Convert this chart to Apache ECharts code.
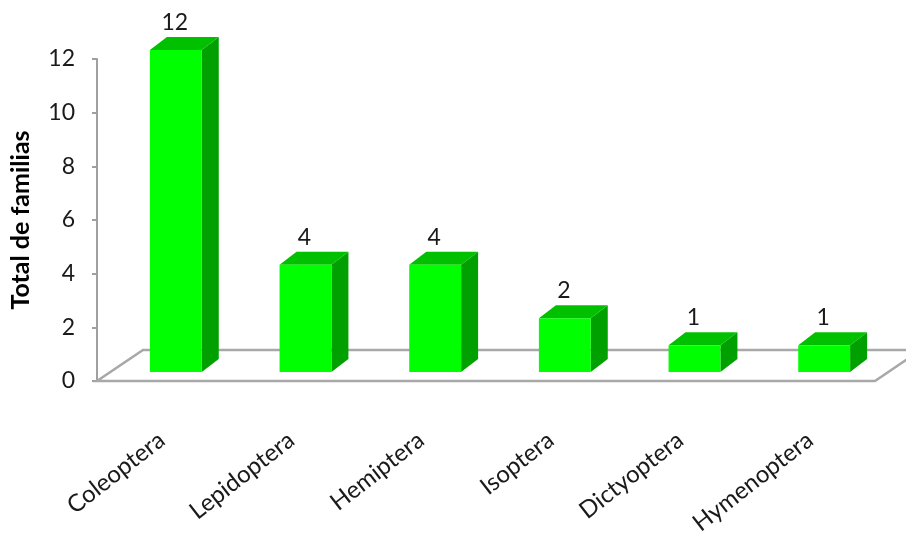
<!DOCTYPE html>
<html>
<head>
<meta charset="utf-8">
<script src="https://cdn.jsdelivr.net/npm/echarts@6/dist/echarts.min.js"></script>
<style>
  html, body { margin: 0; padding: 0; background: #fff; }
  #chart { width: 906px; height: 541px; }
</style>
</head>
<body>
<div id="chart"></div>
<script>
var categories = ["Coleoptera", "Lepidoptera", "Hemiptera", "Isoptera", "Dictyoptera", "Hymenoptera"];
var familias = [12, 4, 4, 2, 1, 1];
var yTicks = { min: 0, max: 12, interval: 2 };

var myChart = echarts.init(document.getElementById("chart"));

// 3d offsets (px)
var floorDx = 46, floorDy = -31;
var barOx = 14, barOy = -9;
var depthDx = 17, depthDy = -13;
var fontName = "Lato";

function renderFloor(params, api) {
  var band = api.size([1, 0])[0];
  var a = api.coord([0, 0]);
  var b = api.coord([categories.length - 1, 0]);
  var xl = a[0] - band / 2, xr = b[0] + band / 2, y = a[1];
  return {
    type: "polygon",
    shape: {
      points: [[xl, y], [xr, y], [xr + floorDx, y + floorDy], [xl + floorDx, y + floorDy]]
    },
    style: { fill: null, stroke: "#a8a8a8", lineWidth: 2.5 }
  };
}

function renderBar(params, api) {
  var idx = api.value(0);
  var val = api.value(1);
  var c0 = api.coord([idx, 0]);
  var c1 = api.coord([idx, val]);
  var bw = api.size([1, 0])[0] * 0.4;
  var x0 = c0[0] + barOx - bw / 2;
  var x1 = x0 + bw;
  var yb = c0[1] + barOy;
  var yt = c1[1] + barOy;
  return {
    type: "group",
    children: [
      {
        type: "polygon",
        shape: { points: [[x1, yb], [x1 + depthDx, yb + depthDy], [x1 + depthDx, yt + depthDy], [x1, yt]] },
        style: { fill: "#00a000" }
      },
      {
        type: "polygon",
        shape: { points: [[x0, yt], [x0 + depthDx, yt + depthDy], [x1 + depthDx, yt + depthDy], [x1, yt]] },
        style: { fill: "#00c000" }
      },
      {
        type: "rect",
        shape: { x: x0, y: yt, width: bw, height: yb - yt },
        style: { fill: "#00ff00" }
      },
      {
        type: "text",
        style: {
          x: x0 + bw / 2 - 1,
          y: yt + depthDy - 3,
          text: String(val),
          fill: "#1a1a1a",
          font: "23px " + fontName,
          align: "center",
          verticalAlign: "bottom"
        }
      }
    ]
  };
}

myChart.setOption({
  backgroundColor: "#fff",
  animation: false,
  grid: { left: 97, right: 31, top: 59, bottom: 160 },
  xAxis: {
    type: "category",
    data: categories,
    axisLine: { show: false },
    axisTick: { show: false },
    axisLabel: {
      rotate: 38,
      margin: 56,
      interval: 0,
      color: "#1a1a1a",
      fontSize: 24,
      fontFamily: fontName
    }
  },
  yAxis: {
    type: "value",
    min: yTicks.min,
    max: yTicks.max,
    interval: yTicks.interval,
    name: "Total de familias",
    nameLocation: "middle",
    nameGap: 64,
    nameTextStyle: { fontSize: 25, fontWeight: "bold", color: "#000", fontFamily: fontName },
    axisLine: { show: true, lineStyle: { color: "#a0a0a0", width: 2 } },
    axisTick: { show: true, length: 5, lineStyle: { color: "#a0a0a0", width: 2 } },
    splitLine: { show: false },
    axisLabel: { margin: 22, color: "#1a1a1a", fontSize: 23, fontFamily: fontName }
  },
  series: [
    {
      type: "custom",
      renderItem: renderFloor,
      data: [[0]],
      z: 1,
      silent: true
    },
    {
      type: "custom",
      renderItem: renderBar,
      data: familias.map(function (v, i) { return [i, v]; }),
      z: 2
    }
  ]
});
</script>
</body>
</html>
